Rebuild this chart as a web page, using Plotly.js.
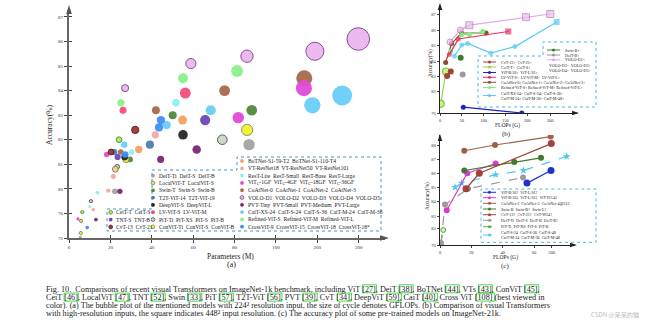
<!DOCTYPE html>
<html><head><meta charset="utf-8">
<script src="https://cdn.plot.ly/plotly-3.0.1.min.js"></script>
<style>html,body{margin:0;padding:0;background:#fff;}#chart{width:650px;height:327px;}</style>
</head><body><div id="chart"></div>
<script>
// ================= DATA (a): bubble plot, 224^2 input =================
const aModel = ['DeiT-Ti','DeiT-S','DeiT-B','LocalViT-T','LocalViT-S','Swin-T','Swin-S','Swin-B','T2T-ViT-14','T2T-ViT-19','DeepViT-S','DeepViT-L','LV-ViT-S','LV-ViT-M','PiT-XS','PiT-S','PiT-B','ConViT-Ti','ConViT-S','ConViT-B','CeiT-T','CeiT-S','TNT-S','TNT-B','CvT-13','CvT-21','BoTNet-S1-59-T2','BoTNet-S1-110-T4','VT-ResNet18','VT-ResNet50','VT-ResNet101','VT-ResNet(x)','ResT-Lite','ResT-Small','ResT-Base','ResT-Large','ViTC-1GF','ViTC-4GF','ViTC-18GF','ViTC-36GF','CoAtNet-0','CoAtNet-1','CoAtNet-2','CoAtNet-3','VOLO-D1','VOLO-D2','VOLO-D3','VOLO-D4','VOLO-D5','PVT-Tiny','PVT-Small','PVT-Medium','PVT-Large','CaiT-XS-24','CaiT-S-24','CaiT-S-36','CaiT-M-24','CaiT-M-36','Refined-ViT-S','Refined-ViT-M','Refined-ViT-L','CrossViT-9','CrossViT-15','CrossViT-18','CrossViT-18*'];
const aFamily = ['DeiT','DeiT','DeiT','LocalViT','LocalViT','Swin','Swin','Swin','T2T','T2T','DeepViT','DeepViT','LVViT','LVViT','PiT','PiT','PiT','ConViT','ConViT','ConViT','CeiT','CeiT','TNT','TNT','CvT','CvT','BoTNet','BoTNet','VT','VT','VT','VT','ResT','ResT','ResT','ResT','ViTC','ViTC','ViTC','ViTC','CoAtNet','CoAtNet','CoAtNet','CoAtNet','VOLO','VOLO','VOLO','VOLO','VOLO','PVT','PVT','PVT','PVT','CaiT','CaiT','CaiT','CaiT','CaiT','Refined','Refined','Refined','CrossViT','CrossViT','CrossViT','CrossViT'];
const aParams = [5.5,22.2,87,5.8,22.4,29.5,50.1,88.3,21.9,39.1,26.9,55.1,26.1,56.2,10.6,23.3,74.1,5.7,27.5,86.1,6.4,24.2,23.5,65.8,20.3,32.0,33.7,54.9,11.7,21.4,41.7,19.0,10.1,13.7,30.3,51.7,4.3,18.2,81.8,167.5,25.0,42.0,75.2,168.5,27.1,58.9,86.0,194,299,13.0,24.6,44.3,61.7,26.7,47.2,68.5,188,260,25.1,55.1,81.2,8.8,27.2,43.5,44.4];
const aAcc = [72.1,79.6,81.8,74.8,80.8,81.2,83.0,83.2,81.5,81.8,81.3,82.2,83.2,83.9,78.0,80.9,82.0,72.8,81.2,82.4,76.2,82.0,81.3,82.8,81.5,82.4,81.6,82.8,76.6,80.5,82.2,79.7,77.1,79.4,81.5,83.5,75.1,81.4,82.9,84.1,81.5,83.2,84.0,84.5,84.1,85.1,85.4,85.6,86.1,75.0,79.6,81.2,81.6,81.8,82.6,83.2,83.4,83.8,83.5,84.5,84.8,73.7,81.4,82.5,82.8];
const aGflops = [1.3,4.6,17.6,1.3,4.6,4.5,8.7,15.4,5.2,8.9,6.2,12.5,6.6,16.0,1.4,2.9,12.5,1.0,5.4,17.0,1.2,4.5,5.2,14.1,4.5,7.1,7.3,10.9,1.6,3.4,7.1,2.5,1.4,1.9,4.3,7.9,1.1,4.0,17.7,35.0,4.2,8.4,15.7,34.7,6.8,14.1,20.6,43.8,69.0,1.9,3.8,6.7,9.8,5.4,9.4,13.9,36.0,53.7,7.2,13.5,19.1,1.8,5.8,9.0,9.5];
const aXTicks = [0,20,40,60,80,100,200,300];
const aYTicks = [72,76,80,81,82,83,84,85,86,87];

// ================= DATA (b): high-resolution inputs =================
const bCvTx=[16.3,24.9], bCvTy=[83.0,83.3];
const bCeiTx=[1.6,13.8], bCeiTy=[78.5,83.3];
const bViTx=[53.6,188], bViTy=[77.6,76.0];
const bLVx=[21.4,42.0,157], bLVy=[84.4,85.4,85.9];
const bCoAtx=[13.0,26.6,49.3,106], bCoAty=[83.9,85.1,85.8,85.8];
const bRefx=[24.6,49.9,67.4,98.2], bRefy=[84.6,85.7,85.7,85.9];
const bCaiTx=[33,50,63.7,116.6,172.4,329], bCaiTy=[84.3,85.0,85.1,84.5,84.9,86.5];
const bVOLOx=[23,46.7,67.4,197.7,301], bVOLOy=[85.2,86.0,86.3,86.8,87.0];
const bSwinx=[47.5], bSwiny=[84.2];
const bDeiTx=[52], bDeiTy=[83.1];
const bXTicks=[0,50,100,150,200,300];
const bYTicks=[76,82,83,84,85,86,87];

// ================= DATA (c): ImageNet-21k pre-trained =================
const cViTx=[55.5,196], cViTy=[85.3,86.2];
const cMagx=[4.3,17.4,35.5], cMagy=[83.4,86.0,86.7];
const cCoAtx=[15.5,35.1,193.6], cCoAty=[87.6,88.0,88.6];
const cSwinx=[15.5,47.4,116], cSwiny=[86.2,86.8,87.1];
const cCvTx=[16.6,25.1,198], cCvTy=[84.9,86.0,88.1];
const cGrayx=[0.6,3.2,17.9,53], cGrayy=[76.7,83.8,84.9,85.7];
const cGreenx=[0.4,2.1], cGreeny=[76.2,81.4];
const cCaiTx=[9.6,13.8,35.5,53.2,364], cCaiTy=[85.0,85.3,85.9,86.2,87.2];
const cXTicks=[0,20,40,60,200];
const cYTicks=[76,82,83,84,85,86,87,88];

// ================= helpers =================
const W=650,H=327;
const PX=x=>x/W, PY=y=>1-y/H;
function pw(xs,ys){return v=>{let i=0;while(i<xs.length-2&&v>xs[i+1])i++;return ys[i]+(v-xs[i])*(ys[i+1]-ys[i])/(xs[i+1]-xs[i]);};}
const ax=pw([0,100,300],[0,100,140]);
const ay=pw([72,76,80,87],[0,1,2,9]);
const bx=pw([0,200,300],[0,87,110]);
const by=pw([76,82,83,84,85,86,87,88],[0,22,37,52,68,83,99,114]);
const cx=pw([0,60,200,400],[0,94,111.5,130]);
const cy=pw([76,82,83,84,85,86,87,88,89],[0,16.7,29,43.3,57.7,71.7,85.7,100,114]);
const SERIF='Liberation Serif, Times New Roman, serif';

const famStyle={
 DeiT:{c:'#a3a3a3'}, LocalViT:{c:'#e4d9a4',l:'#8f7d32'}, Swin:{c:'#4f8a3e'}, T2T:{c:'#4d7cb4'},
 DeepViT:{c:'#262626'}, LVViT:{c:'#f24d7e'}, PiT:{c:'#cbd6c6',l:'#555'}, ConViT:{c:'#f4f22e',l:'#8a8a60'},
 CeiT:{c:'#b4e46a',l:'#5c8c2c'}, TNT:{c:'#6b48c0'}, CvT:{c:'#9b3838',l:'#5a1a1a'}, BoTNet:{c:'#f3a163'},
 VT:{c:'#f6a7a2'}, ResT:{c:'#8ff0f0'}, ViTC:{c:'#e04ad8'}, CoAtNet:{c:'#a8694a'}, VOLO:{c:'#ecb7f1',l:'#7a4a86'},
 PVT:{c:'#7d2670'}, CaiT:{c:'#68cdf7'}, Refined:{c:'#8af08a'}, CrossViT:{c:'#3f8ef5'}
};
const famOrder=['CaiT','VOLO','CoAtNet','ViTC','Refined','LVViT','Swin','ConViT','PiT','DeiT','DeepViT','TNT','BoTNet','PVT','T2T','CrossViT','ResT','VT','CvT','CeiT','LocalViT'];

const traces=[];
famOrder.forEach(f=>{
  const idx=aFamily.map((v,i)=>v===f?i:-1).filter(i=>i>=0);
  const s=famStyle[f];
  traces.push({type:'scatter',mode:'markers',xaxis:'x',yaxis:'y',name:f,
    x:idx.map(i=>ax(aParams[i])), y:idx.map(i=>ay(aAcc[i])), text:idx.map(i=>aModel[i]),
    marker:{size:idx.map(i=>aGflops[i]),sizemode:'area',sizeref:0.27,sizemin:1.6,color:s.c,opacity:0.95,
      line:{color:s.l||s.c,width:s.l?1:0}}});
});
// invisible trace that carries the inner tick marks of panel (a)
traces.push({type:'scatter',mode:'markers',xaxis:'x4',yaxis:'y4',x:[0],y:[0],marker:{opacity:0},hoverinfo:'skip'});

function line2(xs,ys,color,opts={}){
  return {type:'scatter',mode:'lines+markers',xaxis:opts.xa||'x2',yaxis:opts.ya||'y2',
    x:xs.map(opts.fx||bx), y:ys.map(opts.fy||by),
    line:{color,width:opts.w||1.2,dash:opts.dash||'solid'},
    marker:{color:opts.mc||color,size:opts.size||5,symbol:opts.sym||'circle',line:{color:opts.ml||color,width:opts.mlw||0}}};
}
// (b)
traces.push(line2(bViTx,bViTy,'#1c22c4'));
traces.push(line2(bCeiTx,bCeiTy,'#8fd84a',{mc:'#c6f28e',ml:'#7cc83a',mlw:1.2,size:7}));
traces.push(line2(bCvTx,bCvTy,'#a3413a',{size:6}));
traces.push(line2(bCoAtx,bCoAty,'#8e4e34',{size:5}));
traces.push(line2(bCaiTx,bCaiTy,'#5ccaf2',{sym:['circle','circle','circle','circle','circle','square'],size:[5,5,5,5,5,6]}));
traces.push(line2(bRefx,bRefy,'#7fec7f',{size:5}));
traces.push(line2(bLVx,bLVy,'#e8306a',{sym:['circle','circle','square'],size:[5,5,6]}));
traces.push(line2(bVOLOx,bVOLOy,'#e6a6ec',{mc:'#ecbaf0',ml:'#9a6aa0',mlw:0.8,sym:['circle','circle','square','square','square'],size:[6,6,7,7,7]}));
traces.push(line2(bSwinx,bSwiny,'#3f7a2e',{size:6}));
traces.push(line2(bDeiTx,bDeiTy,'#9a9a9a',{size:6}));
// (c)
const cOpt=(o)=>Object.assign({xa:'x3',ya:'y3',fx:cx,fy:cy},o);
traces.push(line2(cGreenx,cGreeny,'#5fa84a',cOpt({dash:'dash',mc:'#cfe9c4',ml:'#5fa84a',mlw:1,size:5})));
traces.push(line2(cGrayx,cGrayy,'#9a9a9a',cOpt({dash:'dash',size:6})));
traces.push(line2(cCaiTx,cCaiTy,'#4cc8ea',cOpt({dash:'dash',sym:'star',size:6})));
traces.push(line2(cMagx,cMagy,'#d43ad4',cOpt({size:6})));
traces.push(line2(cSwinx,cSwiny,'#3f7a2e',cOpt({size:6})));
traces.push(line2(cCvTx,cCvTy,'#a3413a',cOpt({size:7})));
traces.push(line2(cViTx,cViTy,'#2230d0',cOpt({size:7})));
traces.push(line2(cCoAtx,cCoAty,'#a0604a',cOpt({size:6})));

// ================= decorations =================
const shapes=[], ann=[];
function txt(x,y,text,size,o={}){ann.push(Object.assign({xref:'paper',yref:'paper',x:PX(x),y:PY(y),text,showarrow:false,
  font:{size,family:o.family||SERIF,color:o.color||'#222'},xanchor:o.xa||'left',yanchor:'middle',textangle:o.angle||0},o.extra||{}));}
function circ(x,y,r,fill,lc,lw){shapes.push({type:'circle',xref:'paper',yref:'paper',xsizemode:'pixel',ysizemode:'pixel',
  xanchor:PX(x),yanchor:PY(y),x0:-r,x1:r,y0:-r,y1:r,fillcolor:fill,line:{color:lc||fill,width:lw||0}});}
function seg(x0,y0,x1,y1,color,w,dash){shapes.push({type:'line',xref:'paper',yref:'paper',x0:PX(x0),y0:PY(y0),x1:PX(x1),y1:PY(y1),line:{color,width:w||1,dash:dash||'solid'}});}
function poly(pts,color,w,dash,fill){shapes.push({type:'path',xref:'paper',yref:'paper',
  path:'M '+pts.map(p=>PX(p[0])+','+PY(p[1])).join(' L ')+' Z',line:{color,width:w||0,dash:dash||'solid'},fillcolor:fill||'rgba(0,0,0,0)'});}

// axis arrows
poly([[66.2,14],[69,5],[71.8,14]],'#555',0,'solid','#555');
poly([[380,235.2],[389,238],[380,240.8]],'#555',0,'solid','#555');
poly([[437.7,10],[440,3],[442.3,10]],'#222',0,'solid','#222');
poly([[572,110.7],[579,113],[572,115.3]],'#222',0,'solid','#222');
poly([[437.7,141],[440,134],[442.3,141]],'#222',0,'solid','#222');
poly([[570,242.7],[577,245],[570,247.3]],'#222',0,'solid','#222');

// (a) legend box
poly([[107,209],[152,209],[152,170],[237,170],[237,157],[381,157],[381,231],[107,231]],'#3f95d0',1,'dot');
const legA=[
 ['CeiT',110.7,212.3,'CeiT-T  CeiT-S'],['TNT',110.7,219.6,'TNT-S  TNT-B'],['CvT',110.7,226.9,'CvT-13  CvT-21'],
 ['DeiT',153,175.7,'DeiT-Ti  DeiT-S  DeiT-B'],['LocalViT',153,183,'LocalViT-T  LocalViT-S'],['Swin',153,190.3,'Swin-T  Swin-S  Swin-B'],
 ['T2T',153,197.6,'T2T-ViT-14  T2T-ViT-19'],['DeepViT',153,204.9,'DeepViT-S  DeepViT-L'],['LVViT',153,212.2,'LV-ViT-S  LV-ViT-M'],
 ['PiT',153,219.5,'PiT-Ti  PiT-XS  PiT-S  PiT-B'],['ConViT',153,226.8,'ConViT-Ti  ConViT-S  ConViT-B'],
 ['BoTNet',242,161,'BoTNet-S1-59-T2  BoTNet-S1-110-T4'],['VT',242,168.3,'VT-ResNet18  VT-ResNet50  VT-ResNet101'],
 ['ResT',242,175.6,'ResT-Lite  ResT-Small  ResT-Base  ResT-Large'],['ViTC',242,182.9,'ViT<sub>C</sub>-1GF  ViT<sub>C</sub>-4GF  ViT<sub>C</sub>-18GF  ViT<sub>C</sub>-36GF'],
 ['CoAtNet',242,190.2,'CoAtNet-0  CoAtNet-1  CoAtNet-2  CoAtNet-3'],['VOLO',242,197.5,'VOLO-D1  VOLO-D2  VOLO-D3  VOLO-D4  VOLO-D5'],
 ['PVT',242,204.8,'PVT-Tiny  PVT-Small  PVT-Medium  PVT-Large'],['CaiT',242,212.1,'CaiT-XS-24  CaiT-S-24  CaiT-S-36  CaiT-M-24  CaiT-M-36'],
 ['Refined',242,219.4,'Refined-ViT-S  Refined-ViT-M  Refined-ViT-L'],['CrossViT',242,226.7,'CrossViT-9  CrossViT-15  CrossViT-18  CrossViT-18*']
];
legA.forEach(([f,x,y,t])=>{const s=famStyle[f];circ(x,y,1.9,s.c,s.l||s.c,s.l?0.8:0);txt(x+3.5,y,t,5.6);});

// (b) legend
poly([[478,56],[543,56],[543,42],[596,42],[596,107],[478,107]],'#4db6e0',1,'dot');
const legB=[
 ['#a3413a',62,'CvT-13↑  CvT-21↑'],['#8fd84a',67,'CeiT-T↑  CeiT-S↑'],['#1c22c4',72.5,'ViT-B/16↑  ViT-L/16↑'],
 ['#e8306a',77.3,'LV-ViT-S↑  LV-ViT-M↑  LV-ViT-L↑'],['#8e4e34',82.3,'CoAtNet-0↑ CoAtNet-1↑ CoAtNet-2↑ CoAtNet-3↑'],
 ['#7fec7f',87.5,'Refined-ViT-S↑ Refined-ViT-M↑ Refined-ViT-L↑']
];
const LB=4.1;
legB.forEach(([c,y,t])=>{seg(483,y,496,y,c,1);circ(489.5,y,1.5,c);txt(498.5,y,t,LB);});
seg(483,95.5,496,95.5,'#5ccaf2',1);circ(489.5,95.5,1.5,'#5ccaf2');
txt(498.5,93,'CaiT-XS-24↑ CaiT-S-24↑ CaiT-S-36↑',LB);txt(498.5,98.2,'CaiT-M-24↑ CaiT-M-36↑ CaiT-M-48↑',LB);
[['#3f7a2e',50,'Swin-B↑'],['#9a9a9a',55,'DeiT-B↑'],['#e6a6ec',59.8,'VOLO-D1↑']].forEach(([c,y,t])=>{seg(547,y,560,y,c,1);circ(553.5,y,1.5,c);txt(562.5,y,t,LB);});
txt(547,65.3,'VOLO-D2↑  VOLO-D3↑',LB);txt(547,70.7,'VOLO-D4↑  VOLO-D5↑',LB);

// (c) legend
shapes.push({type:'rect',xref:'paper',yref:'paper',x0:PX(481),x1:PX(596),y0:PY(242.3),y1:PY(189),line:{color:'#4db6e0',width:1,dash:'dot'}});
const legC=[
 ['#2230d0',192.3,'ViT-B/16†  ViT-L/16†','solid'],['#d43ad4',197.7,'ViT-B/16‡  ViT-L/16‡  ViT-H/14‡','solid'],
 ['#a0604a',203.3,'CoAtNet-2  CoAtNet-3  CoAtNet-4@512','solid'],['#3f7a2e',209,'Swin-B  Swin-B†  Swin-L†','solid'],
 ['#a3413a',214.7,'CvT-13†  CvT-21†  CvT-W24†','solid'],['#9a9a9a',220.3,'DeiT-Ti  DeiT-S  DeiT-B  DeiT-B†','dash'],
 ['#5fa84a',226.7,'PiT-Ti  PiT-XS  PiT-S  PiT-B','dash']
];
legC.forEach(([c,y,t,d])=>{seg(483,y,496,y,c,1,d);circ(489.5,y,1.5,c);txt(498.5,y,t,LB);});
seg(483,235,496,235,'#4cc8ea',1,'dash');circ(489.5,235,1.5,'#4cc8ea');
txt(498.5,232.7,'CaiT-S-24  CaiT-S-36  CaiT-S-48',LB);txt(498.5,237.8,'CaiT-M-24  CaiT-M-36  CaiT-M-48',LB);

// axis titles & panel labels
txt(49,125,'Accuracy(%)',7.5,{xa:'center',angle:-90});
txt(230,256,'Parameters (M)',7.5,{xa:'center'});
txt(231,264,'(a)',8,{xa:'center'});
txt(431,63,'Accuracy(%)',5.2,{xa:'center',angle:-90});
txt(507,125.5,'FLOPs (G)',5.6,{xa:'center'});
txt(506,133.5,'(b)',7,{xa:'center'});
txt(427,196,'Accuracy(%)',5.2,{xa:'center',angle:-90});
txt(505,257,'FLOPs (G)',5.6,{xa:'center'});
txt(505,265.5,'(c)',7,{xa:'center'});

// caption (citation numbers get green link boxes, measured from the text itself)
const capSize=8.2, capX=44;
const capLines=[
 [289,'Fig. 10.  Comparisons of recent visual Transformers on ImageNet-1k benchmark, including ViT [27], DeiT [38], BoTNet [44], VTs [43], ConViT [45],'],
 [297.3,'CeiT [46], LocalViT [47], TNT [52], Swin [33], PiT [57], T2T-ViT [56], PVT [39], CvT [34], DeepViT [59], CaiT [40], Cross ViT [108] (best viewed in'],
 [305.6,'color). (a) The bubble plot of the mentioned models with 224² resolution input, the size of cycle denotes GFLOPs. (b) Comparison of visual Transformers'],
 [313.9,'with high-resolution inputs, the square indicates 448² input resolution. (c) The accuracy plot of some pre-trained models on ImageNet-21k.']
];
const ctx=document.createElement('canvas').getContext('2d');
ctx.font=capSize+'px "Liberation Serif"';
capLines.forEach(([y,t])=>{
  txt(capX,y,t,capSize);
  const re=/\[\d+\]/g; let m;
  while((m=re.exec(t))){
    const x0=capX+2+ctx.measureText(t.slice(0,m.index)).width;
    const x1=capX+2+ctx.measureText(t.slice(0,m.index+m[0].length)).width;
    shapes.push({type:'rect',xref:'paper',yref:'paper',x0:PX(x0-0.3),x1:PX(x1+0.3),y0:PY(y+3.8),y1:PY(y-4.2),line:{color:'#33d633',width:0.9}});
  }
});
txt(641,314,'CSDN @呆呆的猫',6.2,{xa:'right',color:'#bdbdbd',family:'Noto Sans CJK SC, sans-serif'});

const axCommon={showgrid:false,zeroline:false,showline:true,ticks:'outside',fixedrange:true,tickmode:'array'};
const layout={
  width:W,height:H,margin:{l:0,r:0,t:0,b:0,pad:0},paper_bgcolor:'#fff',plot_bgcolor:'rgba(0,0,0,0)',
  showlegend:false,font:{family:SERIF,color:'#222'},
  xaxis:Object.assign({},axCommon,{domain:[PX(69),PX(385)],range:[0,152.7],anchor:'y',linecolor:'#666',linewidth:2,ticklen:3,tickcolor:'#444',
    tickvals:aXTicks.map(ax),ticktext:aXTicks.map(String),tickfont:{size:5,family:SERIF,color:'#333'}}),
  yaxis:Object.assign({},axCommon,{domain:[PY(238),PY(10)],range:[0,9.28],anchor:'x',linecolor:'#666',linewidth:2,ticklen:3,tickcolor:'#444',
    tickvals:aYTicks.map(ay),ticktext:aYTicks.map(String),tickfont:{size:5,family:SERIF,color:'#333'}}),
  xaxis4:{overlaying:'x',anchor:'y4',domain:[PX(69),PX(385)],range:[0,152.7],showline:false,showgrid:false,zeroline:false,ticks:'inside',ticklen:3,tickcolor:'#444',
    tickmode:'array',tickvals:aXTicks.map(ax),showticklabels:false,fixedrange:true},
  yaxis4:{overlaying:'y',anchor:'x4',domain:[PY(238),PY(10)],range:[0,9.28],showline:false,showgrid:false,zeroline:false,ticks:'inside',ticklen:3,tickcolor:'#444',
    tickmode:'array',tickvals:aYTicks.map(ay),showticklabels:false,fixedrange:true},
  xaxis2:Object.assign({},axCommon,{domain:[PX(440),PX(577)],range:[0,137],anchor:'y2',linecolor:'#222',linewidth:1.3,ticklen:2,
    tickvals:bXTicks.map(bx),ticktext:bXTicks.map(String),tickfont:{size:4.5,family:SERIF,color:'#333'}}),
  yaxis2:Object.assign({},axCommon,{domain:[PY(113),PY(5)],range:[0,108],anchor:'x2',linecolor:'#222',linewidth:1.3,ticklen:2,
    tickvals:bYTicks.map(by),ticktext:bYTicks.map(String),tickfont:{size:4.5,family:SERIF,color:'#333'}}),
  xaxis3:Object.assign({},axCommon,{domain:[PX(440),PX(575)],range:[0,135],anchor:'y3',linecolor:'#222',linewidth:1.3,ticklen:2,
    tickvals:cXTicks.map(cx),ticktext:cXTicks.map(String),tickfont:{size:4.5,family:SERIF,color:'#333'}}),
  yaxis3:Object.assign({},axCommon,{domain:[PY(245),PY(135)],range:[0,110],anchor:'x3',linecolor:'#222',linewidth:1.3,ticklen:2,
    tickvals:cYTicks.map(cy),ticktext:cYTicks.map(String),tickfont:{size:4.5,family:SERIF,color:'#333'}}),
  shapes,annotations:ann
};
Plotly.newPlot('chart',traces,layout,{displayModeBar:false,staticPlot:true});
</script></body></html>
